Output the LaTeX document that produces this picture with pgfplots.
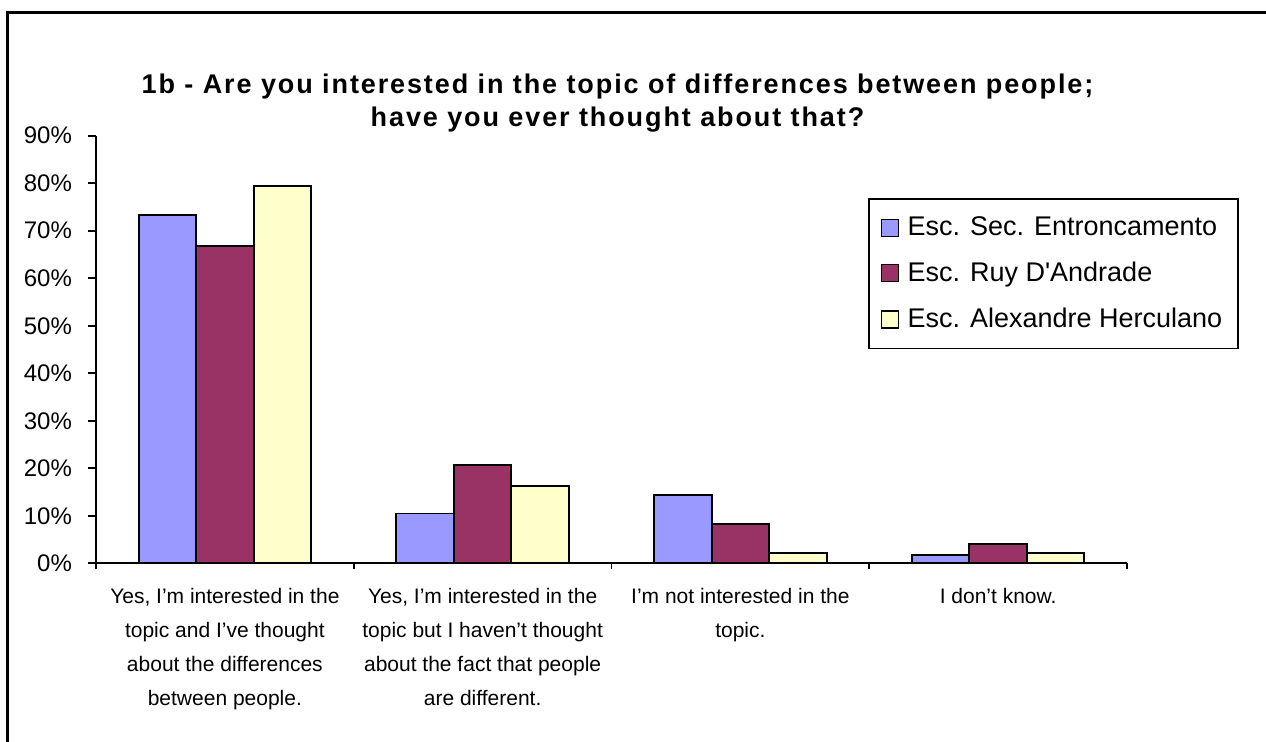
\documentclass[border=0pt]{standalone}
\usepackage{pgfplots}
\pgfplotsset{compat=1.18}
\usepackage{fontspec}
\setmainfont{Liberation Sans}[Ligatures=TeXOff]
\definecolor{serA}{HTML}{9999FF}
\definecolor{serB}{HTML}{993366}
\definecolor{serC}{HTML}{FFFFCC}

\begin{document}
\begin{tikzpicture}
\begin{axis}[
  scale only axis, width=515.5pt, height=213.8pt,
  xmin=-0.5, xmax=3.5, ymin=0, ymax=90,
  ybar=0pt, bar width=28.75pt,
  axis x line*=bottom, axis y line*=left,
  axis line style={line width=0.9pt, -},
  tick style={line width=0.9pt, black},
  tick align=outside,
  xtick={0,1,2,3},
  minor xtick={-0.5,0.5,1.5,2.5,3.5},
  major x tick style={draw=none},
  minor tick length=3pt, major tick length=4pt,
  ytick={0,10,...,90},
  yticklabel={\pgfmathprintnumber{\tick}\%},
  /pgf/number format/assume math mode=true,
  yticklabel style={font=\fontsize{12}{14}\selectfont, xshift=-4.5pt},
  xticklabel style={font=\fontsize{10.5}{17}\selectfont, align=center, yshift=-5pt},
  xticklabels={{Yes, I’m interested in the\\topic and I’ve thought\\about the differences\\between people.},
    {Yes, I’m interested in the\\topic but I haven’t thought\\about the fact that people\\are different.},
    {I’m not interested in the\\topic.},
    {I don’t know.}},
  legend style={at={(1.1086,0.8543)}, anchor=north east, draw=black, line width=0.75pt,
    font=\fontsize{13.5}{15}\selectfont, row sep=7.75pt, inner xsep=6pt, inner ysep=7pt},
  legend cell align=left,
  legend image code/.code={\draw[#1, line width=0.6pt, draw=black] (0pt,-4.25pt) rectangle (8.5pt,4.25pt);
    \path (10.5pt,0pt);},
]
\addplot[fill=serA, draw=black, line width=0.9pt] coordinates {(0,73.3) (1,10.5) (2,14.4) (3,1.8)};
\addplot[fill=serB, draw=black, line width=0.9pt] coordinates {(0,66.7) (1,20.7) (2,8.3) (3,4.0)};
\addplot[fill=serC, draw=black, line width=0.9pt] coordinates {(0,79.4) (1,16.2) (2,2.2) (3,2.2)};
\legend{Esc. Sec. Entroncamento, Esc. Ruy D'Andrade, Esc. Alexandre Herculano}
\coordinate (O) at (axis cs:-0.5,0);
\end{axis}
% picture frame and title, placed from the lower left corner of the axis
\begin{scope}[shift={(O)}, shift={(-48pt,-89.35pt)}, x=1pt, y=1pt]
\draw[line width=1.5pt] (4,-10) -- (4,364.5) -- (645,364.5);
\node[font=\bfseries\fontsize{13.5}{16.5}\selectfont\addfontfeatures{LetterSpace=7}, align=center]
  at (308.75,319.25) {1b - Are you interested in the topic of differences between people;\\have you ever thought about that?};
\pgfresetboundingbox
\useasboundingbox (0,0) rectangle (633,371);
\end{scope}
\end{tikzpicture}
\end{document}
